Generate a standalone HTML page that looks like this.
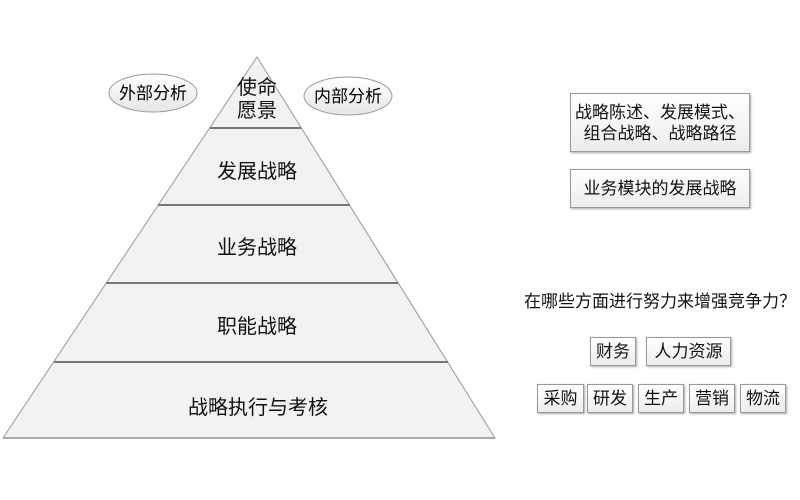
<!DOCTYPE html>
<html><head><meta charset="utf-8"><style>
body{margin:0;width:800px;height:500px;background:#fff;overflow:hidden;position:relative;font-family:"Liberation Sans","Noto Sans CJK SC",sans-serif;color:#111}
.b{position:absolute;box-sizing:border-box;border:1px solid #999;background:linear-gradient(#fff,#ececec);box-shadow:1px 1px 2px #aaa;display:flex;align-items:center;justify-content:center;font-size:17px;text-align:center;line-height:21px}
.t{position:absolute;font-size:20px;text-align:center}
</style></head><body>
<svg width="800" height="500" style="position:absolute;left:0;top:0">
<polygon points="257,57 3,438 495,438" fill="#f2f2f2" stroke="#999" stroke-width="1"/>
<g stroke="#777" stroke-width="2">
<line x1="210" y1="128" x2="301" y2="128"/>
<line x1="158" y1="205" x2="350" y2="205"/>
<line x1="106" y1="283" x2="398" y2="283"/>
<line x1="54" y1="362" x2="448" y2="362"/>
<line x1="3" y1="438" x2="495" y2="438" stroke="#aaa"/>
</g>
<defs><linearGradient id="g" x1="0" y1="0" x2="0" y2="1"><stop offset="0" stop-color="#fff"/><stop offset="1" stop-color="#e6e6e6"/></linearGradient></defs>
<ellipse cx="153" cy="93" rx="44" ry="19" fill="url(#g)" stroke="#999"/>
<ellipse cx="348" cy="96" rx="44" ry="19" fill="url(#g)" stroke="#999"/>
<text x="153" y="99" font-size="17" text-anchor="middle" font-family="Liberation Sans,Noto Sans CJK SC,sans-serif">外部分析</text>
<text x="348" y="102" font-size="17" text-anchor="middle" font-family="Liberation Sans,Noto Sans CJK SC,sans-serif">内部分析</text>
</svg>
<div class="t" style="left:217px;top:77px;width:80px;line-height:23px">使命<br>愿景</div>
<div class="t" style="left:157px;top:155px;width:200px">发展战略</div>
<div class="t" style="left:157px;top:231px;width:200px">业务战略</div>
<div class="t" style="left:157px;top:310px;width:200px">职能战略</div>
<div class="t" style="left:148px;top:391px;width:220px">战略执行与考核</div>
<div class="b" style="left:570px;top:93px;width:180px;height:59px">战略陈述、发展模式、<br>组合战略、战略路径</div>
<div class="b" style="left:570px;top:169px;width:180px;height:39px">业务模块的发展战略</div>
<div style="position:absolute;left:520px;top:287px;width:280px;text-align:center;font-size:17px;font-family:'Noto Sans CJK SC',sans-serif">在哪些方面进行努力来增强竞争力？</div>
<div class="b" style="left:590px;top:337px;width:46px;height:29px">财务</div>
<div class="b" style="left:646px;top:337px;width:85px;height:29px">人力资源</div>
<div class="b" style="left:537px;top:384px;width:47px;height:29px">采购</div>
<div class="b" style="left:587px;top:384px;width:46px;height:29px">研发</div>
<div class="b" style="left:638px;top:384px;width:46px;height:29px">生产</div>
<div class="b" style="left:689px;top:384px;width:46px;height:29px">营销</div>
<div class="b" style="left:740px;top:384px;width:46px;height:29px">物流</div>
</body></html>
